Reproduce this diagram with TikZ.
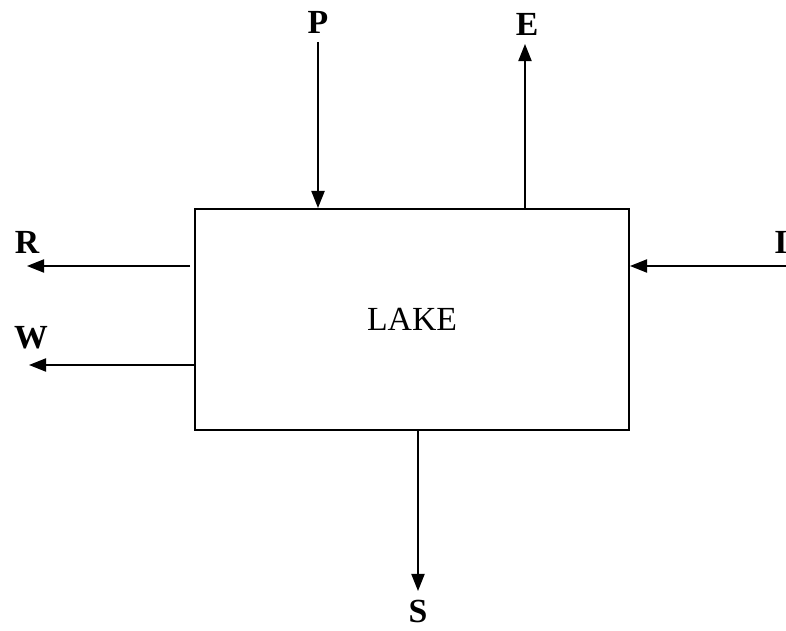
\documentclass[tikz,border=0pt]{standalone}
\usepackage{fontspec}
\setmainfont{Liberation Serif}
\usetikzlibrary{arrows.meta,positioning}

\begin{document}
\begin{tikzpicture}[
  x=0.025cm, y=-0.025cm,
  arr/.style={-{Triangle[length=4.3mm, width=3.3mm]}, line width=1.3pt},
  flux/.style={font=\fontsize{24}{26}\selectfont\bfseries, inner sep=0pt},
  tank/.style={draw, line width=1.3pt, minimum width=10.85cm, minimum height=5.525cm, font=\fontsize{24}{26}\selectfont}
]
\useasboundingbox (0,0) rectangle (786,630);

% Lake
\node[tank] (lake) at (412,319.5) {LAKE};

% Labels
\node[flux] (P) at (318,22) {P};
\node[flux] (E) at (527,24) {E};
\node[flux] (R) at (27,242) {R};
\node[flux] (W) at (31,338) {W};
\node[flux] (I) at (781,242) {I};
\node[flux] (S) at (418,611) {S};

% Free ends
\coordinate (Ptail) at (318,42);
\coordinate (Ehead) at (525,44);
\coordinate (Rhead) at (27,266);
\coordinate (Whead) at (29,365);
\coordinate (Itail) at (786,266);
\coordinate (Shead) at (418,591);

% Fluxes
\draw[arr] (Ptail) -- (Ptail |- lake.north);
\draw[arr] (Ehead |- lake.north) -- (Ehead);
\draw[arr] ([xshift=-0.1cm]lake.west |- Rhead) -- (Rhead);
\draw[arr] (lake.west |- Whead) -- (Whead);
\draw[arr] (Itail) -- (lake.east |- Itail);
\draw[arr] (Shead |- lake.south) -- (Shead);

\end{tikzpicture}
\end{document}
